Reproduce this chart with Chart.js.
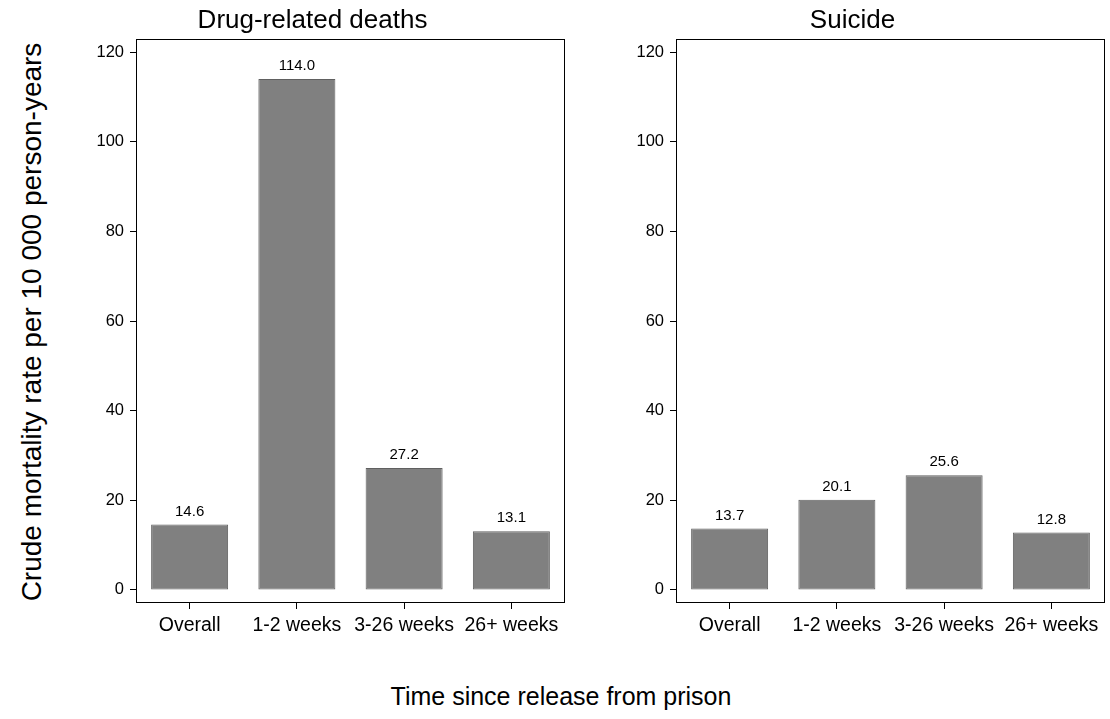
<!DOCTYPE html>
<html>
<head>
<meta charset="utf-8">
<script src="https://cdn.jsdelivr.net/npm/chart.js@4/dist/chart.umd.min.js"></script>
<style>
  body { margin: 0; background: #fff; }
  #wrap { position: relative; width: 1110px; height: 719px; overflow: hidden; background: #fff;
          font-family: "Liberation Sans", Arial, Helvetica, sans-serif; color: #000; }
  .panel { position: absolute; top: 0; height: 650px; }
  #ytitle { position: absolute; left: -268px; top: 308px; width: 600px; height: 28px; line-height: 28px;
            font-size: 28px; text-align: center; transform: rotate(-90deg); white-space: nowrap; }
  #xtitle { position: absolute; left: 261px; top: 684px; width: 600px; height: 25px; line-height: 25px;
            font-size: 25px; text-align: center; white-space: nowrap; }
</style>
</head>
<body>
<div id="wrap">
  <div class="panel" style="left:60px; width:515px;"><canvas id="drugChart"></canvas></div>
  <div class="panel" style="left:600px; width:510px;"><canvas id="suicideChart"></canvas></div>
  <div id="ytitle">Crude mortality rate per 10 000 person-years</div>
  <div id="xtitle">Time since release from prison</div>
</div>
<script>
// data
const categories = ['Overall', '1-2 weeks', '3-26 weeks', '26+ weeks'];
const drugDeaths = [14.6, 114.0, 27.2, 13.1];
const suicide = [13.7, 20.1, 25.6, 12.8];
const yTicks = [0, 20, 40, 60, 80, 100, 120];

const FONT = '"Liberation Sans", Arial, Helvetica, sans-serif';

// box around the plot region
const framePlugin = {
    id: 'frame',
    afterDraw(chart) {
        const a = chart.chartArea;
        const ctx = chart.ctx;
        ctx.save();
        ctx.strokeStyle = '#000';
        ctx.lineWidth = 1;
        ctx.strokeRect(Math.round(a.left) + 0.5, Math.round(a.top) + 0.5,
                       Math.round(a.right - a.left) - 1, Math.round(a.bottom - a.top));
        ctx.restore();
    }
};

// value printed above each bar
const valueLabels = {
    id: 'valueLabels',
    afterDatasetsDraw(chart) {
        const ctx = chart.ctx;
        ctx.save();
        ctx.font = '15px ' + FONT;
        ctx.fillStyle = '#000';
        ctx.textAlign = 'center';
        ctx.textBaseline = 'middle';
        chart.data.datasets.forEach((ds, i) => {
            chart.getDatasetMeta(i).data.forEach((bar, j) => {
                ctx.fillText(ds.data[j].toFixed(1), bar.x, bar.y - 13);
            });
        });
        ctx.restore();
    }
};

function makePanel(id, title, values, yWidth, padRight) {
    const ctx = document.getElementById(id).getContext('2d');
    return new Chart(ctx, {
        type: 'bar',
        data: {
            labels: categories,
            datasets: [{
                data: values,
                backgroundColor: '#808080',
                borderColor: '#606060',
                borderWidth: 1,
                borderSkipped: false,
                barPercentage: 0.718,
                categoryPercentage: 1
            }]
        },
        options: {
            responsive: true,
            maintainAspectRatio: false,
            animation: false,
            layout: { padding: { left: 0, right: padRight, top: 0, bottom: 0 } },
            plugins: {
                legend: { display: false },
                tooltip: { enabled: false },
                title: {
                    display: true,
                    text: title,
                    color: '#000',
                    font: { family: FONT, size: 26, weight: 'normal', lineHeight: 1.2 },
                    padding: { top: 5, bottom: 3 }
                }
            },
            scales: {
                x: {
                    afterFit: s => { s.height = 48; },
                    border: { display: false },
                    grid: { display: true, offset: false, drawOnChartArea: false, drawTicks: true,
                            tickLength: 7, color: '#000', lineWidth: 1 },
                    ticks: { color: '#000', padding: 5, maxRotation: 0, autoSkip: false,
                             font: { family: FONT, size: 19.5 } }
                },
                y: {
                    min: -2.7,
                    max: 122.9,
                    afterFit: s => { s.width = yWidth; },
                    afterBuildTicks: s => { s.ticks = yTicks.map(v => ({ value: v })); },
                    border: { display: false },
                    grid: { display: true, drawOnChartArea: false, drawTicks: true,
                            tickLength: 6, color: '#000', lineWidth: 1 },
                    ticks: { color: '#000', padding: 6, font: { family: FONT, size: 16.5 } }
                }
            }
        },
        plugins: [framePlugin, valueLabels]
    });
}

makePanel('drugChart', 'Drug-related deaths', drugDeaths, 76, 10);
makePanel('suicideChart', 'Suicide', suicide, 76, 5);
</script>
</body>
</html>
